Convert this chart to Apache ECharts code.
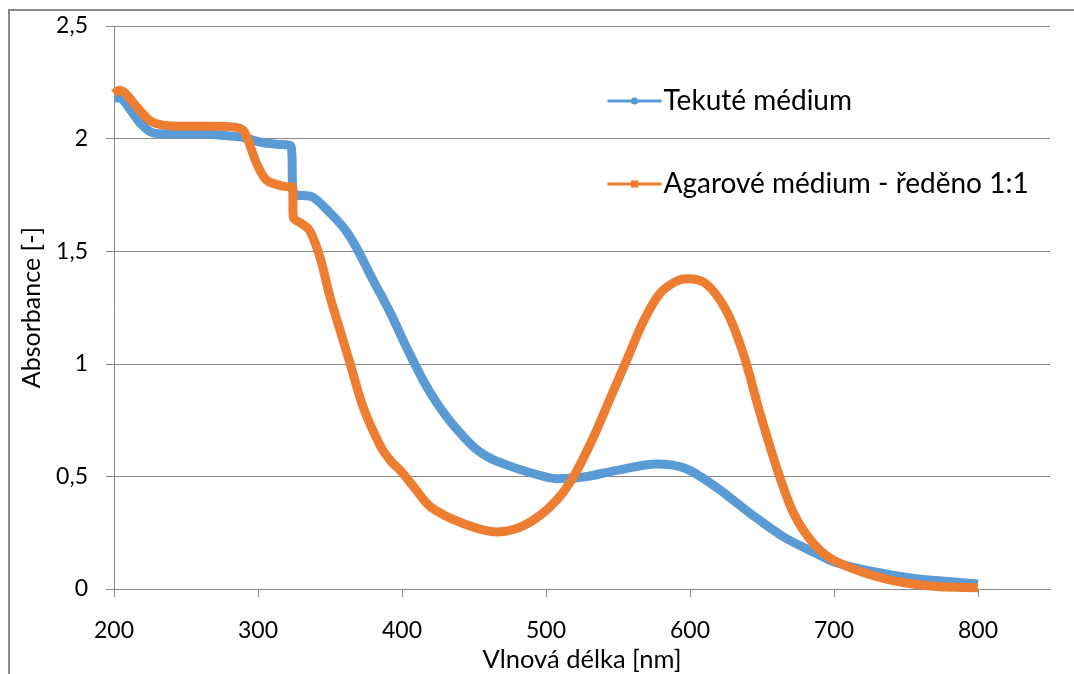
<!DOCTYPE html>
<html lang="cs">
<head>
<meta charset="UTF-8">
<title>Absorbance</title>
<script src="https://cdn.jsdelivr.net/npm/echarts@6/dist/echarts.min.js"></script>
<style>
  html, body { margin: 0; padding: 0; background: #fff; }
  #main { width: 1074px; height: 674px; }
</style>
</head>
<body>
<div id="main"></div>
<script>
// Tekuté médium
const blueNm  = [200, 204, 210, 218, 227, 240, 260, 280, 290, 301, 313, 323, 324.5, 338, 350, 360, 368, 380, 392, 403, 417, 431, 449, 460, 473, 491, 507, 526, 549, 577, 597, 618, 642, 665, 688, 700, 723, 757, 780, 800];
const blueAbs = [2.18, 2.18, 2.14, 2.07, 2.025, 2.02, 2.02, 2.012, 2.005, 1.985, 1.975, 1.965, 1.76, 1.74, 1.67, 1.6, 1.52, 1.37, 1.225, 1.075, 0.9, 0.765, 0.635, 0.585, 0.55, 0.513, 0.49, 0.497, 0.527, 0.555, 0.535, 0.453, 0.335, 0.231, 0.157, 0.12, 0.083, 0.046, 0.033, 0.022];

// Agarové médium - ředěno 1:1
const orangeNm  = [200, 204, 208, 216, 225, 234, 250, 270, 285, 290, 294, 299, 306, 318, 324, 324.5, 331, 336, 343, 350, 357, 364, 373, 385, 392, 399, 408, 420, 443, 466, 478, 491, 502, 512, 521, 533, 544, 556, 568, 579, 590, 598, 611, 625, 637, 648, 660, 672, 686, 700, 723, 746, 769, 800];
const orangeAbs = [2.2, 2.215, 2.2, 2.14, 2.08, 2.06, 2.055, 2.055, 2.05, 2.035, 1.978, 1.89, 1.815, 1.788, 1.785, 1.65, 1.62, 1.59, 1.474, 1.297, 1.149, 1.0, 0.808, 0.635, 0.57, 0.525, 0.455, 0.364, 0.29, 0.253, 0.265, 0.305, 0.36, 0.43, 0.52, 0.675, 0.838, 1.016, 1.193, 1.312, 1.365, 1.378, 1.356, 1.238, 1.045, 0.794, 0.542, 0.335, 0.2, 0.127, 0.068, 0.031, 0.012, 0.006];

const xTicks = [200, 300, 400, 500, 600, 700, 800];
const seriesNames = ['Tekuté médium', 'Agarové médium - ředěno 1:1'];

const font = 'Lato, "Open Sans", sans-serif';
const gray = '#8a8a8a';

const chart = echarts.init(document.getElementById('main'));
chart.setOption({
  animation: false,
  textStyle: { fontFamily: font, color: '#000' },
  grid: { left: 114, right: 24, top: 26, bottom: 85, outerBoundsMode: 'none' },
  graphic: [{
    type: 'rect',
    shape: { x: 9, y: 10, width: 1100, height: 700 },
    style: { fill: 'none', stroke: gray, lineWidth: 2 },
    silent: true
  }],
  legend: {
    orient: 'vertical',
    left: 601,
    top: 81,
    itemGap: 53,
    itemWidth: 54,
    itemHeight: 9,
    lineStyle: { width: 3 },
    textStyle: { fontFamily: font, fontSize: 28, lineHeight: 30, color: '#000', padding: [0, 0, 0, -3] },
    data: seriesNames
  },
  xAxis: {
    type: 'value',
    min: 200,
    max: 850,
    interval: 100,
    name: 'Vlnová délka [nm]',
    nameLocation: 'middle',
    nameGap: 56,
    nameTextStyle: { fontFamily: font, fontSize: 25.5, color: '#000' },
    axisLine: { show: true, onZero: false, lineStyle: { color: gray, width: 1 } },
    axisTick: { show: true, length: 8, customValues: xTicks, lineStyle: { color: gray } },
    axisLabel: { customValues: xTicks, margin: 30, fontSize: 23, color: '#000', fontFamily: font },
    splitLine: { show: false }
  },
  yAxis: {
    type: 'value',
    min: 0,
    max: 2.5,
    interval: 0.5,
    name: 'Absorbance [-]',
    nameLocation: 'middle',
    nameGap: 70,
    nameRotate: 90,
    nameTextStyle: { fontFamily: font, fontSize: 25, color: '#000' },
    axisLine: { show: true, lineStyle: { color: gray, width: 1 } },
    axisTick: { show: true, length: 8, lineStyle: { color: gray } },
    axisLabel: {
      margin: 26, fontSize: 23, color: '#000', fontFamily: font,
      formatter: v => String(v).replace('.', ',')
    },
    splitLine: { show: true, lineStyle: { color: gray, width: 1 } }
  },
  series: [
    {
      name: seriesNames[0],
      type: 'line',
      data: blueNm.map((x, i) => [x, blueAbs[i]]),
      symbol: 'circle',
      symbolSize: 8,
      showSymbol: false,
      smooth: 0.3,
      color: '#5B9BD5',
      lineStyle: { width: 9, color: '#5B9BD5' }
    },
    {
      name: seriesNames[1],
      type: 'line',
      data: orangeNm.map((x, i) => [x, orangeAbs[i]]),
      symbol: 'rect',
      symbolSize: 8,
      showSymbol: false,
      smooth: 0.3,
      color: '#ED7D31',
      lineStyle: { width: 9, color: '#ED7D31' }
    }
  ]
});
</script>
</body>
</html>
